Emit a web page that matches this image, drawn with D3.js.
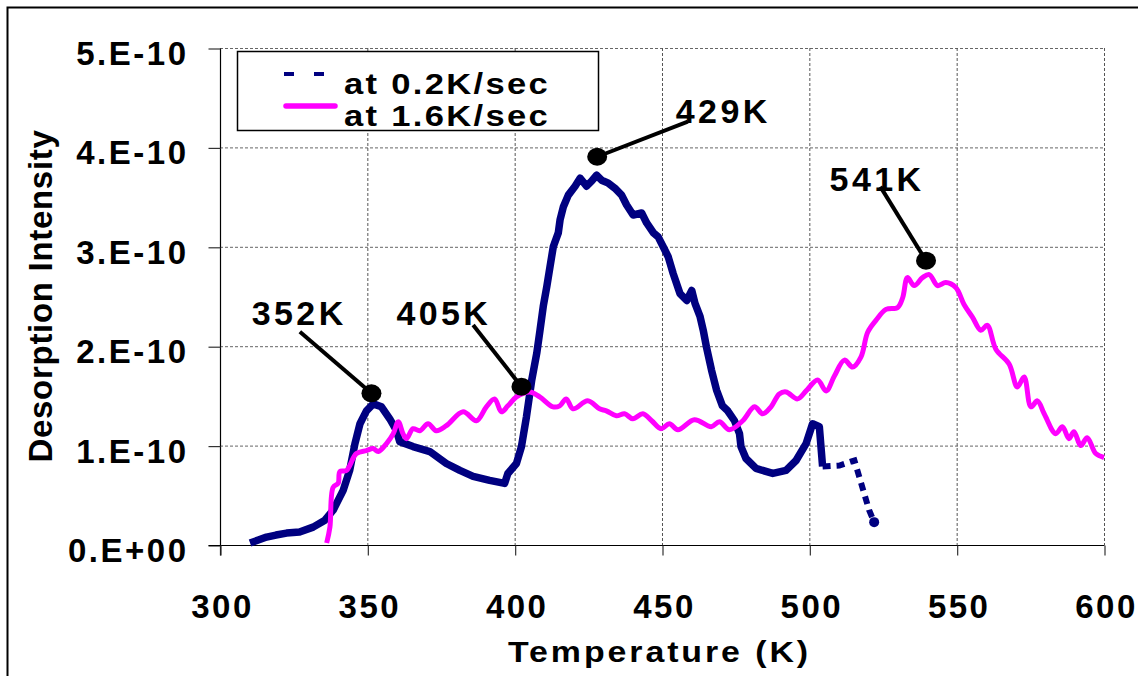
<!DOCTYPE html>
<html>
<head>
<meta charset="utf-8">
<script src="https://cdn.jsdelivr.net/npm/d3@7"></script>
<style>
  html, body { margin: 0; padding: 0; background: #fff; }
  svg { display: block; }
  text { font-family: "Liberation Sans", Arial, sans-serif; font-weight: bold; fill: #000; }
</style>
</head>
<body>
<svg id="chart" width="1138" height="676"></svg>
<script>
// ---------------- data ----------------
const xTicks = [300, 350, 400, 450, 500, 550, 600];
const xTickLabels = ["300", "350", "400", "450", "500", "550", "600"];
const yTicks = [0, 1, 2, 3, 4, 5];               // units of 1e-10
const yTickLabels = ["0.E+00", "1.E-10", "2.E-10", "3.E-10", "4.E-10", "5.E-10"];

const seriesNames = ["at 0.2K/sec", "at 1.6K/sec"];

// 0.2 K/sec  (temperature K, intensity in 1e-10)
const slowT = [310.2,313,315.8,319,322.6,327,331.6,335.6,338.4,341.8,344,345.8,347.5,349.7,352,354.8,357.6,359.9,361,365.5,371.2,376.8,381.4,385.9,391.5,396.6,397.7,400.6,402.3,404,405.8,407.5,408.6,409.7,410.9,412,413.1,414.8,415.4,416.5,418.2,420.5,422.2,424.4,426.1,427.8,429.5,431.8,434,436.3,438,440.2,443.1,444.8,447.1,448.7,450.4,452.1,453.8,456.1,458.4,460.1,461.2,462.9,464,465.1,466.8,468.5,470.5,472.3,474.6,476.3,476.8,478.5,481.9,487.6,492.1,495.5,498.9,501.1,503.4,504.5];
const slowV = [0.02,0.05,0.08,0.10,0.12,0.13,0.18,0.25,0.35,0.55,0.75,1.02,1.22,1.35,1.42,1.39,1.27,1.15,1.04,0.99,0.94,0.82,0.75,0.69,0.65,0.62,0.72,0.82,0.99,1.29,1.66,1.93,2.16,2.40,2.60,2.80,3.00,3.14,3.27,3.40,3.52,3.61,3.69,3.61,3.66,3.72,3.67,3.64,3.59,3.52,3.42,3.32,3.34,3.24,3.14,3.10,3.00,2.90,2.73,2.53,2.46,2.56,2.43,2.30,2.16,1.99,1.76,1.56,1.40,1.35,1.25,1.12,0.99,0.87,0.77,0.72,0.75,0.85,1.02,1.22,1.19,0.79];
// sparse tail of the 0.2 K/sec run
const slowTailT = [504.5,510.2,515.3,516.9,518.6,520.3,522];
const slowTailV = [0.79,0.80,0.85,0.69,0.52,0.35,0.23];

// 1.6 K/sec
const fastT = [336.2,337.3,338.4,340.1,340.7,342.9,346.3,349.7,352,353.7,356.5,358.8,360.5,362.1,363.3,365.5,367.8,370.6,373.4,376.8,382.5,387,390.4,393.2,395.5,397.7,400.6,405.1,408.5,413,415.3,417.5,419.8,424.8,428.8,431.1,434.5,437.3,440.1,443.5,446.5,449.7,452.5,455.4,461,466.7,469.5,472.9,477.4,481.4,484.2,487,489.8,492.1,496,498.9,502.8,505.7,508.5,511.9,514.7,517.5,519.8,522.6,526,530,531.7,533.3,535.6,538.4,540.7,543.5,546.3,549.7,552.5,555.4,558.2,560.4,563.3,567.8,570.6,572.9,575.2,577.4,579.7,583.6,585.9,588.1,589.8,592.1,594.3,597.2,600];
const fastV = [0.02,0.18,0.58,0.62,0.74,0.75,0.92,0.95,0.97,0.94,1.02,1.12,1.24,1.12,1.07,1.17,1.15,1.22,1.15,1.20,1.34,1.25,1.39,1.47,1.34,1.40,1.49,1.54,1.49,1.39,1.40,1.47,1.37,1.45,1.37,1.35,1.30,1.32,1.27,1.32,1.25,1.17,1.22,1.16,1.26,1.19,1.24,1.16,1.25,1.39,1.32,1.39,1.52,1.54,1.47,1.55,1.66,1.55,1.70,1.86,1.79,1.89,2.14,2.26,2.37,2.39,2.49,2.69,2.61,2.69,2.72,2.61,2.64,2.59,2.42,2.29,2.16,2.21,1.97,1.82,1.59,1.69,1.39,1.45,1.32,1.12,1.19,1.07,1.14,1.00,1.08,0.92,0.88];

// peak annotations: label, marker (T, v), label anchor (T, v), leader start (T, v)
const annLabels = ["352K", "405K", "429K", "541K"];
const annMarkT = [351.4, 402.3, 428.0, 539.6];
const annMarkV = [1.526, 1.593, 3.906, 2.86];
const annTextT = [326.3, 375.4, 470.2, 522.4];
const annTextV = [2.21, 2.21, 4.25, 3.56];
const annLineT = [327.1, 385.9, 458.75, 524.1];
const annLineV = [2.146, 2.213, 4.259, 3.605];

// ---------------- drawing ----------------
const svg = d3.select("#chart");
const x = d3.scaleLinear().domain([300, 600]).range([220, 1104]);
const y = d3.scaleLinear().domain([0, 5]).range([545, 48]);

const NAVY = "#000080", MAGENTA = "#FF00FF";

// outer frame
svg.append("rect").attr("x", 7.5).attr("y", 7.5).attr("width", 1200).attr("height", 700)
  .attr("fill", "none").attr("stroke", "#000").attr("stroke-width", 2);

// gridlines
const grid = svg.append("g");
grid.selectAll("line.h").data(yTicks.filter(d => d > 0)).join("line")
  .attr("x1", x(300)).attr("x2", x(600))
  .attr("y1", d => y(d) + 0.5).attr("y2", d => y(d) + 0.5)
  .attr("stroke", "#666").attr("stroke-width", 1).attr("stroke-dasharray", "3,2");
grid.selectAll("line.v").data(xTicks.filter(d => d > 300)).join("line")
  .attr("y1", y(5)).attr("y2", y(0))
  .attr("x1", d => x(d) + 0.5).attr("x2", d => x(d) + 0.5)
  .attr("stroke", "#555").attr("stroke-width", 1).attr("stroke-dasharray", "3,2");

// axes
const yAxis = d3.axisLeft(y).tickValues(yTicks).tickSize(12).tickSizeOuter(0)
  .tickFormat((d, i) => yTickLabels[i]);
const gy = svg.append("g").attr("transform", "translate(220.5,0.5)").call(yAxis);
gy.select(".domain").attr("stroke", "#000").attr("stroke-width", 1.2).attr("d", `M0,${y(5)}V${y(0)+10}`);
gy.selectAll(".tick line").attr("stroke", "#333").attr("stroke-width", 1.2);
gy.selectAll(".tick text")
  .attr("x", -32).attr("dy", "16px")
  .style("font-size", "33px").style("letter-spacing", "2.5px")
  .style("font-family", "'Liberation Sans', Arial, sans-serif").style("font-weight", "bold")
  .attr("fill", "#000");

const xAxis = d3.axisBottom(x).tickValues(xTicks).tickSize(10).tickSizeOuter(0)
  .tickFormat((d, i) => xTickLabels[i]);
const gx = svg.append("g").attr("transform", "translate(0.5,545.5)").call(xAxis);
gx.select(".domain").attr("stroke", "#000").attr("stroke-width", 1.2).attr("d", `M${x(300)-12},0H${x(600)}`);
gx.selectAll(".tick line").attr("stroke", "#333").attr("stroke-width", 1.2);
gx.selectAll(".tick text")
  .attr("y", 72).attr("dy", 0).attr("dx", "1.5px")
  .style("font-size", "33px").style("letter-spacing", "2.5px")
  .style("font-family", "'Liberation Sans', Arial, sans-serif").style("font-weight", "bold")
  .attr("fill", "#000");

// axis titles
svg.append("text").attr("x", 508).attr("y", 662)
  .attr("textLength", 303).attr("lengthAdjust", "spacingAndGlyphs")
  .style("font-size", "29px").style("letter-spacing", "2.5px").text("Temperature (K)");
svg.append("text").attr("transform", "translate(52,296) rotate(-90)").attr("text-anchor", "middle")
  .style("font-size", "33px").style("letter-spacing", "0.7px").text("Desorption Intensity");

// series
const slow = slowT.map((t, i) => [t, slowV[i]]);
const slowTail = slowTailT.map((t, i) => [t, slowTailV[i]]);
const fast = fastT.map((t, i) => [t, fastV[i]]);

const lineLin = d3.line().x(d => x(d[0])).y(d => y(d[1]));
const lineSmooth = d3.line().x(d => x(d[0])).y(d => y(d[1])).curve(d3.curveCatmullRom.alpha(0.5));

svg.append("path").datum(slow).attr("d", lineLin)
  .attr("fill", "none").attr("stroke", NAVY).attr("stroke-width", 7.5)
  .attr("stroke-linejoin", "round");
svg.append("path").datum(slowTail).attr("d", lineLin)
  .attr("fill", "none").attr("stroke", NAVY).attr("stroke-width", 6)
  .attr("stroke-dasharray", "8,6");
svg.append("circle").attr("cx", x(slowTailT[slowTailT.length - 1])).attr("cy", y(slowTailV[slowTailV.length - 1]))
  .attr("r", 5).attr("fill", NAVY);

svg.append("path").datum(fast).attr("d", lineSmooth)
  .attr("fill", "none").attr("stroke", MAGENTA).attr("stroke-width", 5)
  .attr("stroke-linejoin", "round");

// annotations
const ann = svg.append("g");
annLabels.forEach((lab, i) => {
  ann.append("line")
    .attr("x1", x(annLineT[i])).attr("y1", y(annLineV[i]))
    .attr("x2", x(annMarkT[i])).attr("y2", y(annMarkV[i]))
    .attr("stroke", "#000").attr("stroke-width", 4);
  ann.append("ellipse").attr("cx", x(annMarkT[i])).attr("cy", y(annMarkV[i]))
    .attr("rx", 10).attr("ry", 9).attr("fill", "#000");
  ann.append("text").attr("x", x(annTextT[i]) + 1.7).attr("y", y(annTextV[i]))
    .attr("text-anchor", "middle")
    .style("font-size", "34px").style("letter-spacing", "3.4px").text(lab);
});

// legend
const lg = svg.append("g");
lg.append("rect").attr("x", 237.5).attr("y", 51.5).attr("width", 361).attr("height", 79)
  .attr("fill", "#fff").attr("stroke", "#000").attr("stroke-width", 1.5);
lg.append("line").attr("x1", 284).attr("x2", 325).attr("y1", 74).attr("y2", 74)
  .attr("stroke", NAVY).attr("stroke-width", 4).attr("stroke-dasharray", "10,20");
lg.append("line").attr("x1", 286).attr("x2", 335).attr("y1", 106).attr("y2", 106)
  .attr("stroke", MAGENTA).attr("stroke-width", 5.5).attr("stroke-linecap", "round");
lg.append("text").attr("x", 344).attr("y", 94)
  .attr("textLength", 206).attr("lengthAdjust", "spacingAndGlyphs")
  .style("font-size", "30px").style("letter-spacing", "2px").text(seriesNames[0]);
lg.append("text").attr("x", 344).attr("y", 126)
  .attr("textLength", 206).attr("lengthAdjust", "spacingAndGlyphs")
  .style("font-size", "30px").style("letter-spacing", "2px").text(seriesNames[1]);
</script>
</body>
</html>
